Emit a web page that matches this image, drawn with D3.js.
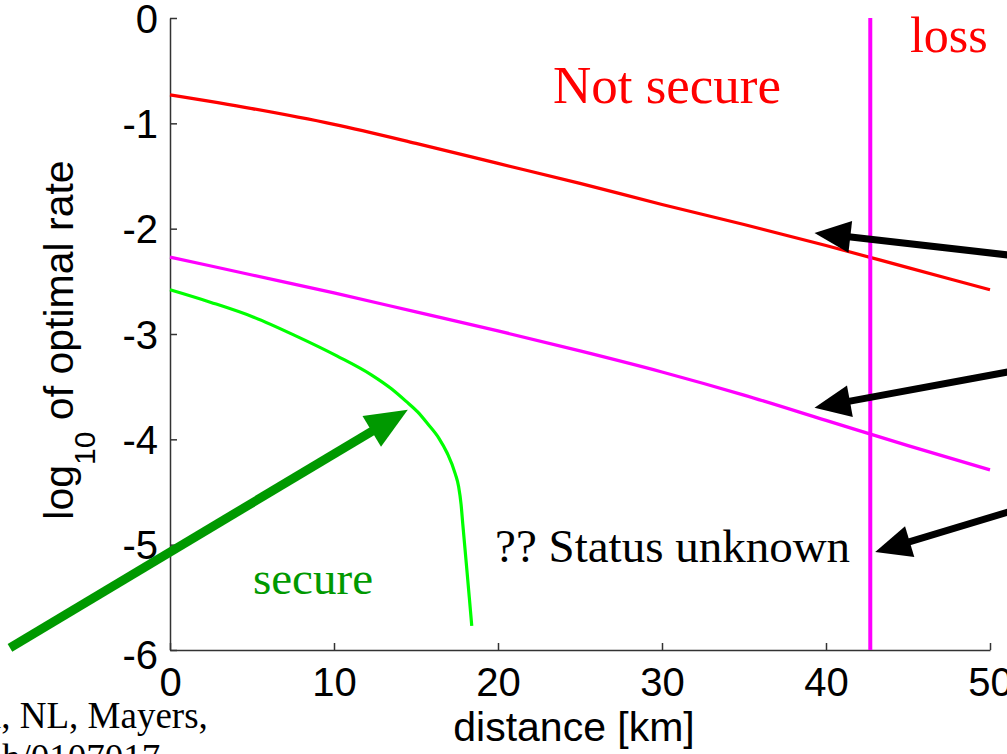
<!DOCTYPE html>
<html>
<head>
<meta charset="utf-8">
<script src="https://cdn.jsdelivr.net/npm/d3@7"></script>
<style>
  body { margin: 0; background: #fff; overflow: hidden; }
  svg { display: block; }
  .tick text { font-family: "Liberation Sans", Arial, sans-serif; }
</style>
</head>
<body>
<div id="chart"></div>
<script>
// distance grid (km) for the two upper bounds
var distance = [0, 5, 10, 15, 20, 25, 30, 35, 40, 45, 50];
var upperRate = [-0.73, -0.86, -1.01, -1.19, -1.38, -1.57, -1.77, -1.96, -2.16, -2.37, -2.58];   // red, not secure
var lowerRate = [-2.27, -2.44, -2.61, -2.79, -2.97, -3.16, -3.36, -3.58, -3.82, -4.06, -4.29];   // magenta
// green secure curve
var secureDist = [0, 2.5, 5.1, 7.7, 10.2, 12.3, 13.5, 14.4, 15.1, 15.7, 16.4, 16.9, 17.4, 17.6, 17.75, 17.85, 18.05, 18.25, 18.4];
var secureRate = [-2.58, -2.70, -2.84, -3.02, -3.21, -3.39, -3.52, -3.64, -3.74, -3.85, -3.99, -4.13, -4.33, -4.45, -4.62, -4.80, -5.15, -5.50, -5.77];
var lossDistance = 42.7;
var xTicks = [0, 10, 20, 30, 40, 50];
var yTicks = [0, -1, -2, -3, -4, -5, -6];

var W = 1007, H = 754;
var margin = {left: 170, right: 17, top: 18, bottom: 104};

var svg = d3.select("#chart").append("svg").attr("width", W).attr("height", H);

var x = d3.scaleLinear().domain([0, 50]).range([margin.left, W - margin.right]);
var y = d3.scaleLinear().domain([-6, 0]).range([H - margin.bottom, margin.top]);

// axes (only left and bottom, ticks pointing inward)
var xAxis = svg.append("g")
  .attr("transform", "translate(0," + y(-6) + ")")
  .call(d3.axisBottom(x).tickValues(xTicks).tickSizeInner(-7).tickSizeOuter(0).tickPadding(18));
var yAxis = svg.append("g")
  .attr("transform", "translate(" + x(0) + ",0)")
  .call(d3.axisLeft(y).tickValues(yTicks).tickSizeInner(-7).tickSizeOuter(0).tickPadding(12)
    .tickFormat(function(d){ return d === 0 ? "0" : "-" + Math.abs(d); }));
[xAxis, yAxis].forEach(function(a){
  a.select(".domain").attr("stroke", "#333").attr("stroke-width", 1.5);
  a.selectAll(".tick line").attr("stroke", "#333").attr("stroke-width", 1.5);
  a.selectAll(".tick text").attr("font-size", 40).attr("fill", "#000");
});
xAxis.selectAll(".tick text").attr("dy", "0.71em");
yAxis.selectAll(".tick text").attr("dy", "0.35em");
yAxis.selectAll(".tick text").filter(function(d){ return d === -6; }).attr("dy", "0.45em");

// axis labels
svg.append("text")
  .attr("x", 574).attr("y", 741)
  .attr("text-anchor", "middle")
  .attr("font-family", "Liberation Sans, Arial, sans-serif").attr("font-size", 41)
  .text("distance [km]");

var yl = svg.append("text")
  .attr("transform", "translate(73," + (y(-3) + 6) + ") rotate(-90)")
  .attr("text-anchor", "middle")
  .attr("font-family", "Liberation Sans, Arial, sans-serif").attr("font-size", 41);
yl.append("tspan").text("log");
yl.append("tspan").attr("font-size", 30).attr("dy", 22).text("10");
yl.append("tspan").attr("dy", -22).text(" of optimal rate");

// curves
var line = d3.line().x(function(d){ return x(d[0]); }).y(function(d){ return y(d[1]); })
  .curve(d3.curveMonotoneX);

svg.append("path")
  .datum(d3.zip(distance, upperRate))
  .attr("d", line)
  .attr("fill", "none").attr("stroke", "#ff0000").attr("stroke-width", 3.2);
svg.append("path")
  .datum(d3.zip(distance, lowerRate))
  .attr("d", line)
  .attr("fill", "none").attr("stroke", "#ff00ff").attr("stroke-width", 3.2);
svg.append("path")
  .datum(d3.zip(secureDist, secureRate))
  .attr("d", line)
  .attr("fill", "none").attr("stroke", "#00ff00").attr("stroke-width", 3.2);

// vertical loss limit
svg.append("line")
  .attr("x1", x(lossDistance)).attr("x2", x(lossDistance))
  .attr("y1", y(0)).attr("y2", y(-6))
  .attr("stroke", "#ff00ff").attr("stroke-width", 4);

// annotation text
function label(txt, dx, dy, size, color){
  svg.append("text")
    .attr("x", x(dx)).attr("y", y(dy))
    .attr("font-family", "Liberation Serif, Times New Roman, serif")
    .attr("font-size", size).attr("fill", color)
    .text(txt);
}
label("Not secure", 23.35, -0.807, 53, "#ff0000");
label("loss", 45.12, -0.323, 50, "#ff0000");
label("?? Status unknown", 19.82, -5.165, 47, "#000");
label("secure", 5.06, -5.468, 47, "#009900");

// citation fragments cut off at the bottom-left
svg.append("text").attr("x", -9).attr("y", 728)
  .attr("font-family", "Liberation Serif, Times New Roman, serif").attr("font-size", 37)
  .text("i, NL, Mayers,");
svg.append("text").attr("x", 2).attr("y", 770)
  .attr("font-family", "Liberation Serif, Times New Roman, serif").attr("font-size", 37)
  .text("h/0107017");

// arrows: [fromDist, fromRate, toDist, toRate, colour, width, headLen, headHalf]
var arrows = [
  [-9.76, -5.98, 14.5, -3.72, "#009900", 9, 42, 18],
  [51.1, -2.25, 39.3, -2.04, "#000", 7, 36, 16],
  [51.1, -3.36, 39.3, -3.70, "#000", 7, 36, 16],
  [51.1, -4.69, 43.0, -5.07, "#000", 7, 36, 16]
];
arrows.forEach(function(a){
  var x1 = x(a[0]), y1 = y(a[1]), x2 = x(a[2]), y2 = y(a[3]);
  var ang = Math.atan2(y2 - y1, x2 - x1);
  var len = a[6], half = a[7];
  var bx = x2 - len * Math.cos(ang), by = y2 - len * Math.sin(ang);
  svg.append("line")
    .attr("x1", x1).attr("y1", y1).attr("x2", bx + 4 * Math.cos(ang)).attr("y2", by + 4 * Math.sin(ang))
    .attr("stroke", a[4]).attr("stroke-width", a[5]);
  var pts = [
    [x2, y2],
    [bx + half * Math.sin(ang), by - half * Math.cos(ang)],
    [bx - half * Math.sin(ang), by + half * Math.cos(ang)]
  ];
  svg.append("polygon").attr("points", pts.map(function(p){ return p.join(","); }).join(" "))
    .attr("fill", a[4]);
});
</script>
</body>
</html>
